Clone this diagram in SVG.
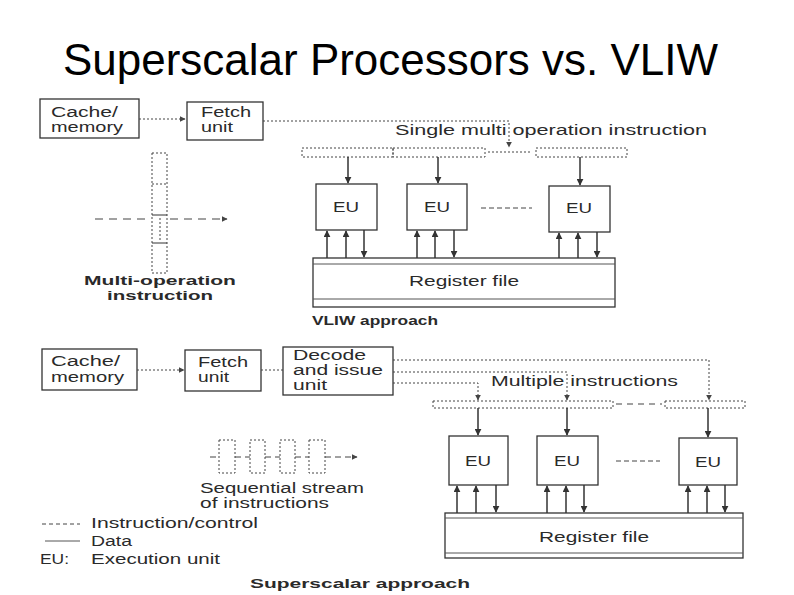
<svg xmlns="http://www.w3.org/2000/svg" width="794" height="595" viewBox="0 0 794 595">
<defs>
<marker id="ah" viewBox="0 0 10 10" refX="9" refY="5" markerWidth="7" markerHeight="7" orient="auto" markerUnits="userSpaceOnUse"><path d="M0,0 L10,5 L0,10 z" fill="#333"/></marker>
<marker id="ahs" viewBox="0 0 10 10" refX="9" refY="5" markerWidth="6" markerHeight="6" orient="auto" markerUnits="userSpaceOnUse"><path d="M0,0 L10,5 L0,10 z" fill="#444"/></marker>
<style>
text{font-family:"Liberation Sans",Arial,sans-serif;fill:#2a2a2a;}
.t{font-size:14px;}
.b{font-size:13.5px;font-weight:bold;}
.box{fill:#fff;stroke:#333;stroke-width:1.3;}
.dot{fill:none;stroke:#444;stroke-width:1;stroke-dasharray:2 2;}
.dash{fill:none;stroke:#444;stroke-width:1.2;stroke-dasharray:8 6;}
.data{fill:none;stroke:#333;stroke-width:1.5;}
.reg{fill:#fff;stroke:#333;stroke-width:1.3;}
.thin{stroke:#555;stroke-width:1;}
</style>
</defs>
<rect width="794" height="595" fill="#fff"/>
<text x="63" y="75" font-size="44" textLength="655" lengthAdjust="spacingAndGlyphs" style="fill:#000">Superscalar Processors vs. VLIW</text>

<!-- VLIW section -->
<g id="v-cache"><rect class="box" x="40" y="99" width="99" height="39"/><text class="t" x="51" y="117" textLength="67" lengthAdjust="spacingAndGlyphs">Cache/</text><text class="t" x="51" y="132" textLength="72" lengthAdjust="spacingAndGlyphs">memory</text></g>
<g id="v-fetch"><rect class="box" x="187" y="102" width="76" height="38"/><text class="t" x="201" y="117" textLength="50" lengthAdjust="spacingAndGlyphs">Fetch</text><text class="t" x="201" y="132" textLength="32" lengthAdjust="spacingAndGlyphs">unit</text></g>
<g id="v-instr"><rect class="dot" x="302" y="148" width="91" height="9"/><rect class="dot" x="393" y="148" width="92" height="9"/><line class="dot" x1="488" y1="152" x2="530" y2="152"/><rect class="dot" x="536" y="148" width="91" height="9"/></g>
<g id="v-eu1"><rect class="box" x="316" y="184" width="61" height="46"/><text class="t" x="333" y="212" textLength="26" lengthAdjust="spacingAndGlyphs">EU</text></g>
<g id="v-eu2"><rect class="box" x="407" y="184" width="60" height="46"/><text class="t" x="424" y="212" textLength="26" lengthAdjust="spacingAndGlyphs">EU</text></g>
<g id="v-eu3"><rect class="box" x="549" y="186" width="61" height="46"/><text class="t" x="566" y="213" textLength="26" lengthAdjust="spacingAndGlyphs">EU</text></g>
<g id="v-reg"><rect class="reg" x="313" y="258" width="302" height="49"/><line class="thin" x1="313" y1="264" x2="615" y2="264"/><line class="thin" x1="313" y1="299" x2="615" y2="299"/><text class="t" x="409" y="286" textLength="110" lengthAdjust="spacingAndGlyphs">Register file</text></g>
<g id="v-multi"><rect class="dot" x="152" y="153" width="15" height="120"/><line class="dot" x1="152" y1="184" x2="167" y2="184"/><line class="data" x1="152" y1="215" x2="167" y2="215" style="stroke-width:1"/><line class="data" x1="152" y1="243" x2="167" y2="243" style="stroke-width:1"/><line class="dot" x1="160" y1="218" x2="160" y2="240"/></g>
<text class="t" x="395" y="135" textLength="312" lengthAdjust="spacingAndGlyphs">Single multi operation instruction</text>
<text class="b" x="84" y="285" textLength="152" lengthAdjust="spacingAndGlyphs">Multi-operation</text>
<text class="b" x="107" y="300" textLength="106" lengthAdjust="spacingAndGlyphs">instruction</text>
<text class="b" x="312" y="325" textLength="126" lengthAdjust="spacingAndGlyphs"><tspan style="font-weight:900">VLIW</tspan> approach</text>

<!-- Superscalar section -->
<g id="s-cache"><rect class="box" x="42" y="349" width="95" height="41"/><text class="t" x="51" y="366" textLength="69" lengthAdjust="spacingAndGlyphs">Cache/</text><text class="t" x="51" y="382" textLength="73" lengthAdjust="spacingAndGlyphs">memory</text></g>
<g id="s-fetch"><rect class="box" x="185" y="350" width="76" height="41"/><text class="t" x="198" y="367" textLength="50" lengthAdjust="spacingAndGlyphs">Fetch</text><text class="t" x="198" y="382" textLength="31" lengthAdjust="spacingAndGlyphs">unit</text></g>
<g id="s-decode"><rect class="box" x="283" y="347" width="110" height="48"/><text class="t" x="293" y="360" textLength="73" lengthAdjust="spacingAndGlyphs">Decode</text><text class="t" x="293" y="375" textLength="90" lengthAdjust="spacingAndGlyphs">and issue</text><text class="t" x="293" y="390" textLength="34" lengthAdjust="spacingAndGlyphs">unit</text></g>
<g id="s-instr"><rect class="dot" x="433" y="401" width="180" height="7"/><line class="dash" x1="616" y1="404" x2="662" y2="404" style="stroke-dasharray:6 5"/><rect class="dot" x="665" y="401" width="80" height="7"/></g>
<g id="s-eu1"><rect class="box" x="449" y="436" width="59" height="49"/><text class="t" x="465" y="466" textLength="26" lengthAdjust="spacingAndGlyphs">EU</text></g>
<g id="s-eu2"><rect class="box" x="537" y="436" width="61" height="49"/><text class="t" x="554" y="466" textLength="26" lengthAdjust="spacingAndGlyphs">EU</text></g>
<g id="s-eu3"><rect class="box" x="679" y="438" width="58" height="47"/><text class="t" x="695" y="467" textLength="26" lengthAdjust="spacingAndGlyphs">EU</text></g>
<g id="s-reg"><rect class="reg" x="445" y="513" width="298" height="45"/><line class="thin" x1="445" y1="518" x2="743" y2="518"/><line class="thin" x1="445" y1="553" x2="743" y2="553"/><text class="t" x="539" y="542" textLength="110" lengthAdjust="spacingAndGlyphs">Register file</text></g>
<g id="s-stream"><rect class="dot" x="219" y="440" width="16" height="33"/><rect class="dot" x="250" y="440" width="15" height="33"/><rect class="dot" x="280" y="440" width="15" height="33"/><rect class="dot" x="309" y="440" width="16" height="33"/></g>
<text class="t" x="491" y="386" textLength="187" lengthAdjust="spacingAndGlyphs">Multiple instructions</text>
<text class="t" x="200" y="493" textLength="164" lengthAdjust="spacingAndGlyphs">Sequential stream</text>
<text class="t" x="200" y="508" textLength="129" lengthAdjust="spacingAndGlyphs">of instructions</text>
<g id="legend"><line class="dot" x1="42" y1="524" x2="80" y2="524" style="stroke-dasharray:4 3"/><text class="t" x="91" y="528" textLength="167" lengthAdjust="spacingAndGlyphs">Instruction/control</text><line class="thin" x1="45" y1="541" x2="80" y2="541"/><text class="t" x="91" y="546" textLength="41" lengthAdjust="spacingAndGlyphs">Data</text><text class="t" x="40" y="564" textLength="29" lengthAdjust="spacingAndGlyphs">EU:</text><text class="t" x="91" y="564" textLength="129" lengthAdjust="spacingAndGlyphs">Execution unit</text></g>
<text class="b" x="250" y="588" textLength="220" lengthAdjust="spacingAndGlyphs">Superscalar approach</text>

<g id="connectors">
<!-- VLIW -->
<line class="dot" x1="139" y1="119" x2="185" y2="119" marker-end="url(#ahs)"/>
<polyline class="dot" points="263,121 509,121 509,147" marker-end="url(#ahs)"/>
<line class="data" x1="348" y1="157" x2="348" y2="183" marker-end="url(#ah)"/>
<line class="data" x1="438" y1="157" x2="438" y2="183" marker-end="url(#ah)"/>
<line class="data" x1="580" y1="157" x2="580" y2="185" marker-end="url(#ah)"/>
<line class="dash" x1="481" y1="208" x2="532" y2="208" style="stroke-dasharray:5 3;stroke-width:1"/>
<line class="data" x1="327" y1="258" x2="327" y2="231" marker-end="url(#ah)"/>
<line class="data" x1="346" y1="258" x2="346" y2="231" marker-end="url(#ah)"/>
<line class="data" x1="364" y1="230" x2="364" y2="257" marker-end="url(#ah)"/>
<line class="data" x1="417" y1="258" x2="417" y2="231" marker-end="url(#ah)"/>
<line class="data" x1="435" y1="258" x2="435" y2="231" marker-end="url(#ah)"/>
<line class="data" x1="454" y1="230" x2="454" y2="257" marker-end="url(#ah)"/>
<line class="data" x1="559" y1="258" x2="559" y2="233" marker-end="url(#ah)"/>
<line class="data" x1="578" y1="258" x2="578" y2="233" marker-end="url(#ah)"/>
<line class="data" x1="597" y1="232" x2="597" y2="257" marker-end="url(#ah)"/>
<line class="dash" x1="95" y1="219" x2="150" y2="219"/>
<line class="dash" x1="170" y1="219" x2="227" y2="219" marker-end="url(#ahs)"/>
<!-- Superscalar -->
<line class="dot" x1="137" y1="370" x2="184" y2="370" marker-end="url(#ahs)"/>
<line class="dot" x1="261" y1="370" x2="283" y2="370"/>
<polyline class="dot" points="393,360 709,360 709,400" marker-end="url(#ahs)"/>
<polyline class="dot" points="393,372 567,372 567,400" marker-end="url(#ahs)"/>
<polyline class="dot" points="393,383 478,383 478,400" marker-end="url(#ahs)"/>
<line class="data" x1="478" y1="408" x2="478" y2="435" marker-end="url(#ah)"/>
<line class="data" x1="567" y1="408" x2="567" y2="435" marker-end="url(#ah)"/>
<line class="data" x1="708" y1="408" x2="708" y2="437" marker-end="url(#ah)"/>
<line class="dash" x1="616" y1="461" x2="660" y2="461" style="stroke-dasharray:5 3;stroke-width:1"/>
<line class="data" x1="457" y1="513" x2="457" y2="486" marker-end="url(#ah)"/>
<line class="data" x1="476" y1="513" x2="476" y2="486" marker-end="url(#ah)"/>
<line class="data" x1="496" y1="485" x2="496" y2="512" marker-end="url(#ah)"/>
<line class="data" x1="547" y1="513" x2="547" y2="486" marker-end="url(#ah)"/>
<line class="data" x1="566" y1="513" x2="566" y2="486" marker-end="url(#ah)"/>
<line class="data" x1="584" y1="485" x2="584" y2="512" marker-end="url(#ah)"/>
<line class="data" x1="688" y1="513" x2="688" y2="486" marker-end="url(#ah)"/>
<line class="data" x1="707" y1="513" x2="707" y2="486" marker-end="url(#ah)"/>
<line class="data" x1="725" y1="485" x2="725" y2="512" marker-end="url(#ah)"/>
<line class="dash" x1="210" y1="457" x2="219" y2="457" style="stroke-dasharray:6 4;stroke-width:1"/>
<line class="dash" x1="235" y1="457" x2="250" y2="457" style="stroke-dasharray:6 4;stroke-width:1"/>
<line class="dash" x1="265" y1="457" x2="280" y2="457" style="stroke-dasharray:6 4;stroke-width:1"/>
<line class="dash" x1="295" y1="457" x2="309" y2="457" style="stroke-dasharray:6 4;stroke-width:1"/>
<line class="dash" x1="325" y1="457" x2="357" y2="457" style="stroke-dasharray:6 4;stroke-width:1" marker-end="url(#ahs)"/>
</g>
</svg>
